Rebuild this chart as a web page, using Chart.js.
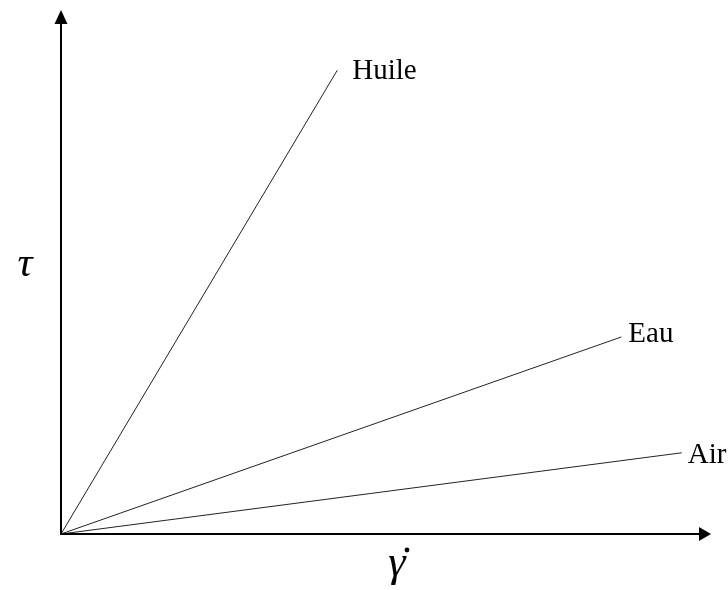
<!DOCTYPE html>
<html>
<head>
<meta charset="utf-8">
<script src="https://cdn.jsdelivr.net/npm/chart.js@4/dist/chart.umd.min.js"></script>
<style>
  html, body { margin: 0; padding: 0; background: #fff; }
  canvas { display: block; }
</style>
</head>
<body>
<canvas id="chart" width="728" height="590"></canvas>
<script>
// Fluides : contrainte de cisaillement en fonction du taux de cisaillement
const fluids = ['Huile', 'Eau', 'Air'];
const shearRateEnd = [4.25, 8.62, 9.55];   // fin de chaque droite (axe x)
const stressEnd = [8.85, 3.76, 1.55];      // fin de chaque droite (axe y)
const yTitle = 'τ';
const xTitle = 'γ';   // point (dérivée) dessiné au-dessus

const datasets = fluids.map((name, i) => ({
    label: name,
    data: [{ x: 0, y: 0 }, { x: shearRateEnd[i], y: stressEnd[i] }],
    borderColor: '#222',
    borderWidth: 1,
    pointRadius: 0,
    fill: false,
    tension: 0
}));

// décalage du texte par rapport à la fin de la droite
const labelDx = [15, 7, 6];
const labelDy = [9, 5, 10];

// axes fléchés + étiquettes des droites
const decorations = {
    id: 'decorations',
    afterDatasetsDraw(chart) {
        const { ctx, chartArea: a, scales } = chart;
        const x0 = scales.x.getPixelForValue(0);
        const y0 = scales.y.getPixelForValue(0);
        ctx.save();
        ctx.strokeStyle = '#000';
        ctx.fillStyle = '#000';
        ctx.lineWidth = 2;

        // axe y
        ctx.beginPath();
        ctx.moveTo(x0, y0 + 1);
        ctx.lineTo(x0, a.top + 13);
        ctx.stroke();
        ctx.beginPath();
        ctx.moveTo(x0, a.top);
        ctx.lineTo(x0 - 6.5, a.top + 14);
        ctx.lineTo(x0 + 6.5, a.top + 14);
        ctx.closePath();
        ctx.fill();

        // axe x
        ctx.beginPath();
        ctx.moveTo(x0 - 1, y0);
        ctx.lineTo(a.right - 11, y0);
        ctx.stroke();
        ctx.beginPath();
        ctx.moveTo(a.right, y0);
        ctx.lineTo(a.right - 12, y0 - 7);
        ctx.lineTo(a.right - 12, y0 + 7);
        ctx.closePath();
        ctx.fill();

        // noms des fluides
        ctx.font = '29px "Liberation Serif", serif';
        ctx.textBaseline = 'alphabetic';
        ctx.textAlign = 'left';
        fluids.forEach((name, i) => {
            const px = scales.x.getPixelForValue(shearRateEnd[i]);
            const py = scales.y.getPixelForValue(stressEnd[i]);
            ctx.fillText(name, px + labelDx[i], py + labelDy[i]);
        });

        // titres des axes
        ctx.font = 'italic 42px "Liberation Serif", serif';
        ctx.textAlign = 'center';
        ctx.fillText(yTitle, 25, 276);
        ctx.font = 'italic 44px "Liberation Serif", serif';
        ctx.fillText(xTitle, 397, 576);
        ctx.beginPath();
        ctx.arc(407, 550, 2.4, 0, Math.PI * 2);
        ctx.fill();
        ctx.restore();
    }
};

new Chart(document.getElementById('chart'), {
    type: 'line',
    data: { datasets },
    options: {
        responsive: false,
        animation: false,
        layout: { padding: { left: 61, right: 17, top: 10, bottom: 56 } },
        plugins: { legend: { display: false }, tooltip: { enabled: false } },
        scales: {
            x: { type: 'linear', min: 0, max: 10, display: false },
            y: { type: 'linear', min: 0, max: 10, display: false }
        }
    },
    plugins: [decorations]
});
</script>
</body>
</html>
